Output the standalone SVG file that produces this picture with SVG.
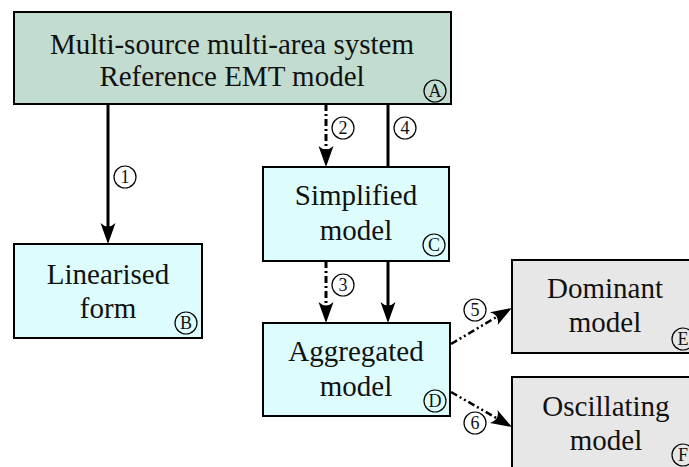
<svg xmlns="http://www.w3.org/2000/svg" width="689" height="467" viewBox="0 0 689 467">
<style>
.box{stroke:#000;stroke-width:2}
.a{fill:#c2ddcf}
.c{fill:#ddfdfd}
.g{fill:#e7e7e7}
.t{font-size:29px;fill:#111;text-anchor:middle}
.ci{fill:none;stroke:#000;stroke-width:1.2}
.ct{font-size:18px;fill:#111;text-anchor:middle}
.ln{fill:none;stroke:#000;stroke-width:3}
.dd{stroke-dasharray:7 3 2 3}
.ddd{stroke-width:2.5;stroke-dasharray:7 3 2 3 2 3}
</style>
<defs>
<marker id="ah" viewBox="-23 -9 25 18" markerWidth="25" markerHeight="18" refX="-8" refY="0" markerUnits="userSpaceOnUse" orient="auto">
<path d="M0,0 L-21,-7.5 Q-14,0 -21,7.5 Z" fill="#000"/>
</marker>
</defs>
<g font-family="'Liberation Serif', 'DejaVu Serif', 'Times New Roman', Times, serif">
<g id="connectors">
<line class="ln" x1="108" y1="104" x2="108" y2="236" marker-end="url(#ah)"/>
<circle class="ci" cx="125" cy="177" r="11"/><text class="ct" x="125" y="183">1</text>
<line class="ln dd" x1="326" y1="104" x2="326" y2="159" marker-end="url(#ah)"/>
<circle class="ci" cx="343" cy="128" r="11"/><text class="ct" x="343" y="134">2</text>
<line class="ln" x1="388" y1="104" x2="388" y2="167"/>
<circle class="ci" cx="405" cy="128" r="11"/><text class="ct" x="405" y="134">4</text>
<line class="ln dd" x1="326" y1="261" x2="326" y2="315" marker-end="url(#ah)"/>
<circle class="ci" cx="343" cy="285" r="11"/><text class="ct" x="343" y="291">3</text>
<line class="ln" x1="388" y1="261" x2="388" y2="315" marker-end="url(#ah)"/>
<line class="ln ddd" x1="451" y1="344" x2="505" y2="312" marker-end="url(#ah)"/>
<circle class="ci" cx="475" cy="310" r="11"/><text class="ct" x="475" y="316">5</text>
<line class="ln ddd" x1="451" y1="392" x2="505" y2="423" marker-end="url(#ah)"/>
<circle class="ci" cx="475" cy="423" r="11"/><text class="ct" x="475" y="429">6</text>
</g>
<g id="A">
<rect class="box a" x="14" y="12" width="437" height="92"/>
<text class="t" x="232" y="54">Multi-source multi-area system</text>
<text class="t" x="232" y="86">Reference EMT model</text>
<circle class="ci" cx="435" cy="91" r="11"/><text class="ct" x="435" y="97">A</text>
</g>
<g id="B">
<rect class="box c" x="14" y="244" width="188" height="94"/>
<text class="t" x="108" y="284">Linearised</text>
<text class="t" x="108" y="318">form</text>
<circle class="ci" cx="186" cy="323" r="11"/><text class="ct" x="186" y="329">B</text>
</g>
<g id="C">
<rect class="box c" x="263" y="167" width="186" height="94"/>
<text class="t" x="356" y="205">Simplified</text>
<text class="t" x="356" y="240">model</text>
<circle class="ci" cx="434" cy="245" r="11"/><text class="ct" x="434" y="251">C</text>
</g>
<g id="D">
<rect class="box c" x="263" y="323" width="187" height="93"/>
<text class="t" x="356" y="361">Aggregated</text>
<text class="t" x="356" y="396">model</text>
<circle class="ci" cx="435" cy="401" r="11"/><text class="ct" x="435" y="407">D</text>
</g>
<g id="E">
<rect class="box g" x="512" y="260" width="200" height="93"/>
<text class="t" x="605" y="298">Dominant</text>
<text class="t" x="605" y="332">model</text>
<circle class="ci" cx="683" cy="339" r="11"/><text class="ct" x="683" y="345">E</text>
</g>
<g id="F">
<rect class="box g" x="512" y="377" width="200" height="120"/>
<text class="t" x="606" y="416">Oscillating</text>
<text class="t" x="606" y="450">model</text>
<circle class="ci" cx="683" cy="455" r="11"/><text class="ct" x="683" y="461">F</text>
</g>
</g>
</svg>
